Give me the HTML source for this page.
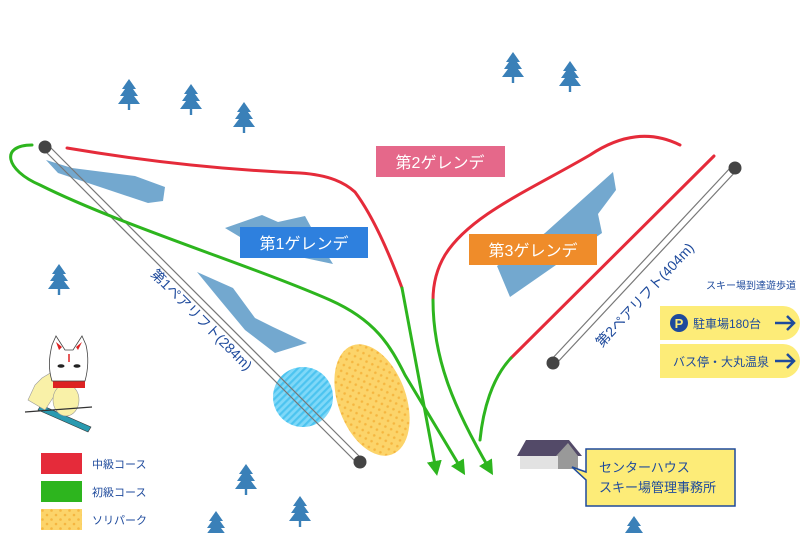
<!DOCTYPE html>
<html><head><meta charset="utf-8"><style>
body{margin:0;width:800px;height:533px;overflow:hidden;background:#fff;font-family:"Liberation Sans","Noto Sans CJK JP",sans-serif}
svg{display:block}
text{font-family:"Liberation Sans","Noto Sans CJK JP",sans-serif}
</style></head><body>
<svg width="800" height="533" viewBox="0 0 800 533" xmlns="http://www.w3.org/2000/svg">
<defs>
<g id="tree"><path d="M0,-16 L-7,-6 L-4,-6 L-9,1 L-5,1 L-11,9 L11,9 L5,1 L9,1 L4,-6 L7,-6 Z" fill="#3a80b8"/><rect x="-1.2" y="8" width="2.4" height="7" fill="#3a80b8"/></g>
<pattern id="stripe" width="5" height="5" patternUnits="userSpaceOnUse" patternTransform="rotate(45)"><rect width="5" height="5" fill="#7fd8f8"/><rect width="2.2" height="5" fill="#4cc4f0"/></pattern>
<pattern id="dots" width="9" height="9" patternUnits="userSpaceOnUse"><rect width="9" height="9" fill="#fcd46a"/><circle cx="2" cy="2" r="1.3" fill="#f5b640"/><circle cx="6.5" cy="6.5" r="1.3" fill="#f5b640"/></pattern>
<marker id="ar" viewBox="0 0 10 10" refX="6" refY="5" markerWidth="5" markerHeight="5" orient="auto"><path d="M0,0 L10,5 L0,10 Z" fill="#2db51e"/></marker>
</defs>

<use href="#tree" x="129" y="95"/><use href="#tree" x="191" y="100"/><use href="#tree" x="244" y="118"/>
<use href="#tree" x="513" y="68"/><use href="#tree" x="570" y="77"/><use href="#tree" x="59" y="280"/>
<use href="#tree" x="246" y="480"/><use href="#tree" x="300" y="512"/><use href="#tree" x="216" y="527"/><use href="#tree" x="634" y="532"/>

<g fill="#73a8cf">
<polygon points="46,160 72,168 135,176 165,187 163,201 148,203 100,187 58,173"/>
<polygon points="225,228 262,215 278,222 305,216 318,240 333,264 300,257 240,237"/>
<polygon points="197,272 233,288 255,318 273,327 307,343 275,353 245,330 220,300"/>
<polygon points="613,172 616,190 598,214 602,233 510,297 497,266 545,233"/>
</g>

<circle cx="303" cy="397" r="30" fill="url(#stripe)"/>
<ellipse cx="372" cy="400" rx="34" ry="58" transform="rotate(-20 372 400)" fill="url(#dots)"/>

<g stroke="#777" stroke-width="1.2">
<line x1="43" y1="149" x2="358" y2="464"/><line x1="48" y1="145" x2="363" y2="460"/>
<line x1="732" y1="166" x2="550" y2="361"/><line x1="737" y1="170" x2="555" y2="365"/>
</g>
<g fill="#444"><circle cx="45" cy="147" r="6.5"/><circle cx="360" cy="462" r="6.5"/><circle cx="735" cy="168" r="6.5"/><circle cx="553" cy="363" r="6.5"/></g>

<g fill="none" stroke-width="3" stroke-linecap="round">
<path d="M67,148 C150,162 230,170 300,173 C330,175 345,183 355,192 C372,215 388,250 402,288" stroke="#e52b3a"/>
<path d="M402,288 L436,470" stroke="#2db51e" marker-end="url(#ar)"/>
<path d="M32,145 C0,145 5,170 40,185 C120,225 250,265 330,300 C375,320 390,345 405,375 L462,470" stroke="#2db51e" marker-end="url(#ar)"/>
<path d="M680,145 C650,130 620,135 590,155 C530,190 470,215 445,255 C436,270 433,285 433,300" stroke="#e52b3a"/>
<path d="M433,300 C433,360 455,410 490,470" stroke="#2db51e" marker-end="url(#ar)"/>
<path d="M714,156 L511,358" stroke="#e52b3a"/>
<path d="M511,358 C492,378 483,410 480,440" stroke="#2db51e"/>
</g>

<rect x="376" y="146" width="129" height="31" fill="#e5688a"/>
<text x="440" y="168" font-size="16" fill="#fff" text-anchor="middle">第2ゲレンデ</text>
<rect x="240" y="227" width="128" height="31" fill="#2e80de"/>
<text x="304" y="249" font-size="16" fill="#fff" text-anchor="middle">第1ゲレンデ</text>
<rect x="469" y="234" width="128" height="31" fill="#ef8c2a"/>
<text x="533" y="256" font-size="16" fill="#fff" text-anchor="middle">第3ゲレンデ</text>

<text transform="translate(150,275) rotate(45)" font-size="14" fill="#1e4a9c">第1ペアリフト(284m)</text>
<text transform="translate(602,348) rotate(-47)" font-size="14" fill="#1e4a9c">第2ペアリフト(404m)</text>

<text x="706" y="289" font-size="10" fill="#1e4a9c">スキー場到達遊歩道</text>
<path d="M660,306 H783 A17,17 0 0 1 783,340 H660 Z" fill="#fdec78"/>
<path d="M660,344 H783 A17,17 0 0 1 783,378 H660 Z" fill="#fdec78"/>
<circle cx="679" cy="323" r="9" fill="#1e4a9c"/><text x="679" y="328" font-size="13" font-weight="bold" fill="#fdec78" text-anchor="middle">P</text>
<text x="693" y="328" font-size="12" fill="#1e4a9c">駐車場180台</text>
<text x="673" y="366" font-size="12" fill="#1e4a9c">バス停・大丸温泉</text>
<g stroke="#1e4a9c" stroke-width="2.5" fill="none"><path d="M775,323 H794 M787,316 L794,323 L787,330"/><path d="M775,361 H794 M787,354 L794,361 L787,368"/></g>

<rect x="520" y="455" width="38" height="14" fill="#e2e2e2"/>
<rect x="558" y="453" width="20" height="16" fill="#999"/>
<polygon points="517,456 526,440 569,440 582,456" fill="#534a68"/>
<polygon points="556,456 568,443 578,456" fill="#999"/>
<path d="M586,449 H735 V506 H586 V480 L572,467 L586,472 Z" fill="#fdec78" stroke="#1e4a9c" stroke-width="1.5"/>
<text x="599" y="472" font-size="13" fill="#1e4a9c">センターハウス</text>
<text x="599" y="492" font-size="13" fill="#1e4a9c">スキー場管理事務所</text>

<rect x="41" y="453" width="41" height="21" fill="#e52b3a"/>
<rect x="41" y="481" width="41" height="21" fill="#2db51e"/>
<rect x="41" y="509" width="41" height="21" fill="url(#dots)"/>
<g font-size="11" fill="#1e4a9c"><text x="92" y="468">中級コース</text><text x="92" y="496">初級コース</text><text x="92" y="524">ソリパーク</text></g>

<!-- fox -->
<g>
<polygon points="38,410 88,432 91,427 41,405" fill="#2a9ab0" stroke="#333" stroke-width="0.6"/>
<path d="M28,400 L35,385 L42,378 L52,372 L58,390 L45,410 Z" fill="#f9f1a8" stroke="#999" stroke-width="0.6"/>
<ellipse cx="66" cy="400" rx="13" ry="16" fill="#f9f1a8" stroke="#999" stroke-width="0.6"/>
<line x1="25" y1="412" x2="92" y2="407" stroke="#333" stroke-width="1.2"/>
<rect x="53" y="381" width="32" height="7" fill="#d22"/>
<path d="M52,381 C48,368 49,358 52,345 L56,336 L65,350 L73,350 L82,336 L86,345 C89,358 88,370 85,381 Z" fill="#fff" stroke="#444" stroke-width="0.8"/>
<path d="M56,342 L59,350 L62,347 Z M82,342 L78,350 L76,347 Z" fill="#d22"/>
<ellipse cx="61" cy="366" rx="3.5" ry="1.8" fill="#222"/><ellipse cx="77" cy="366" rx="3.5" ry="1.8" fill="#222"/>
<line x1="69" y1="354" x2="69" y2="362" stroke="#d22" stroke-width="1.5"/>
</g>
</svg>
</body></html>
